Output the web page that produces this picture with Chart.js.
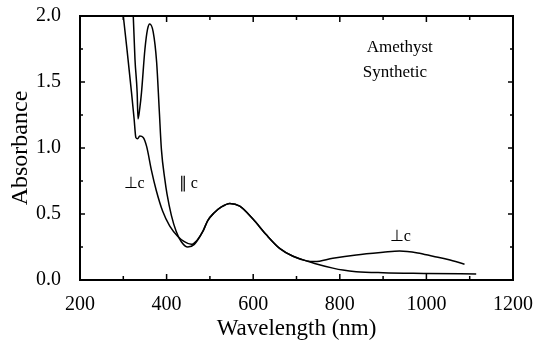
<!DOCTYPE html>
<html>
<head>
<meta charset="utf-8">
<script src="https://cdn.jsdelivr.net/npm/chart.js@4"></script>
<style>
  html, body { margin:0; padding:0; background:#fff; }
  #wrap { width:534px; height:343px; position:relative; }
</style>
</head>
<body>
<div id="wrap"><canvas id="abs-chart"></canvas></div>
<script>
'use strict';

// ── Data ──────────────────────────────────────────────────────────────────────
const perpWl  = [296, 300, 311, 319, 325, 329, 333, 338, 346, 354, 365, 376, 391, 407, 426, 441, 457, 470, 484, 495, 510, 525, 546, 569, 600, 631, 661, 692, 723, 742, 784, 838, 900, 938, 980, 1015, 1050, 1088];
const perpAbs = [2.1, 2.0, 1.67, 1.42, 1.22, 1.08, 1.07, 1.09, 1.08, 1.01, 0.83, 0.68, 0.52, 0.41, 0.33, 0.29, 0.27, 0.30, 0.37, 0.45, 0.51, 0.55, 0.58, 0.56, 0.46, 0.34, 0.24, 0.18, 0.145, 0.14, 0.165, 0.19, 0.21, 0.22, 0.205, 0.18, 0.155, 0.12];

const paraWl  = [322, 323, 327, 332, 334, 338, 342, 350, 356, 361, 369, 377, 383, 388, 396, 401, 411, 422, 434, 449, 464, 484, 495, 510, 525, 546, 569, 600, 631, 661, 692, 723, 742, 784, 807, 838, 900, 1000, 1115];
const paraAbs = [2.1, 2.0, 1.67, 1.42, 1.22, 1.30, 1.42, 1.75, 1.90, 1.94, 1.88, 1.65, 1.29, 0.99, 0.76, 0.65, 0.49, 0.37, 0.29, 0.25, 0.27, 0.37, 0.45, 0.51, 0.55, 0.58, 0.56, 0.46, 0.34, 0.24, 0.18, 0.145, 0.125, 0.09, 0.075, 0.063, 0.055, 0.05, 0.045];

const xMin = 200, xMax = 1200, xStep = 100, xLabelStep = 200;
const yMin = 0, yMax = 2.0, yStep = 0.25, yLabelStep = 0.5;

// text notes inside the plot, in data units
const notes = [
  { text: 'Amethyst',  wl: 862, abs: 1.76, align: 'left' },
  { text: 'Synthetic', wl: 853, abs: 1.57, align: 'left' },
  { text: '\u22A5c',   wl: 325, abs: 0.73, align: 'center' },
  { text: '\u2225 c',  wl: 450, abs: 0.73, align: 'center' },
  { text: '\u22A5c',   wl: 940, abs: 0.33, align: 'center' }
];

const SERIF = "'Liberation Serif', 'Times New Roman', serif";

// ── Frame + inward tick marks on all four sides ───────────────────────────────
const framePlugin = {
  id: 'frame',
  afterDraw(chart) {
    const { ctx, chartArea: a, scales: { x, y } } = chart;
    ctx.save();
    ctx.strokeStyle = '#000';
    ctx.lineWidth = 2;
    ctx.strokeRect(a.left, a.top, a.right - a.left, a.bottom - a.top);
    ctx.lineWidth = 1.5;
    ctx.beginPath();
    x.ticks.forEach(t => {
      const px = x.getPixelForValue(t.value);
      const len = t.value % xLabelStep === 0 ? 6 : 4;
      ctx.moveTo(px, a.bottom); ctx.lineTo(px, a.bottom - len);
      ctx.moveTo(px, a.top); ctx.lineTo(px, a.top + len);
    });
    y.ticks.forEach(t => {
      const py = y.getPixelForValue(t.value);
      const major = Math.abs(t.value / yLabelStep - Math.round(t.value / yLabelStep)) < 1e-6;
      const len = major ? 5 : 3;
      ctx.moveTo(a.left, py); ctx.lineTo(a.left + len, py);
      ctx.moveTo(a.right, py); ctx.lineTo(a.right - len, py);
    });
    ctx.stroke();
    ctx.restore();
  },
  afterDatasetsDraw(chart) {
    const { ctx, scales: { x, y } } = chart;
    ctx.save();
    ctx.fillStyle = '#000';
    ctx.textBaseline = 'middle';
    notes.forEach(n => {
      ctx.font = (n.align === 'left' ? '17px ' : '16px ') + SERIF;
      ctx.textAlign = n.align;
      ctx.fillText(n.text, x.getPixelForValue(n.wl), y.getPixelForValue(n.abs));
    });
    ctx.restore();
  }
};

const toPts = (xs, ys) => xs.map((v, i) => ({ x: v, y: ys[i] }));
const line = (label, xs, ys) => ({
  label, data: toPts(xs, ys),
  borderColor: '#000', borderWidth: 1.5, pointRadius: 0,
  fill: false, cubicInterpolationMode: 'monotone', clip: 0
});

new Chart(document.getElementById('abs-chart'), {
  type: 'line',
  data: {
    datasets: [
      line('\u22A5c', perpWl, perpAbs),
      line('\u2225c', paraWl, paraAbs)
    ]
  },
  options: {
    responsive: true, maintainAspectRatio: false, animation: false,
    layout: { padding: { top: 16, right: 21, left: 0, bottom: 0 } },
    plugins: { legend: { display: false }, tooltip: { enabled: false } },
    scales: {
      x: {
        type: 'linear', min: xMin, max: xMax,
        afterFit: s => { s.height = 63; s.paddingLeft = 0; s.paddingRight = 0; },
        grid: { display: false }, border: { display: false },
        ticks: {
          stepSize: xStep, autoSkip: false, maxRotation: 0, padding: 5,
          color: '#000', font: { family: SERIF, size: 20 },
          callback: v => v % xLabelStep === 0 ? v : ''
        },
        title: { display: true, text: 'Wavelength (nm)', color: '#000', padding: 0, font: { family: SERIF, size: 23 } }
      },
      y: {
        min: yMin, max: yMax,
        afterFit: s => { s.width = 80; s.paddingTop = 0; s.paddingBottom = 0; },
        grid: { display: false }, border: { display: false },
        ticks: {
          stepSize: yStep, autoSkip: false, padding: 11,
          color: '#000', font: { family: SERIF, size: 20 },
          callback: v => Math.abs(v / yLabelStep - Math.round(v / yLabelStep)) < 1e-6 ? v.toFixed(1) : ''
        },
        title: { display: true, text: 'Absorbance', color: '#000', padding: { top: 6, bottom: 6 }, font: { family: SERIF, size: 24 } }
      }
    }
  },
  plugins: [framePlugin]
});
</script>
</body>
</html>
